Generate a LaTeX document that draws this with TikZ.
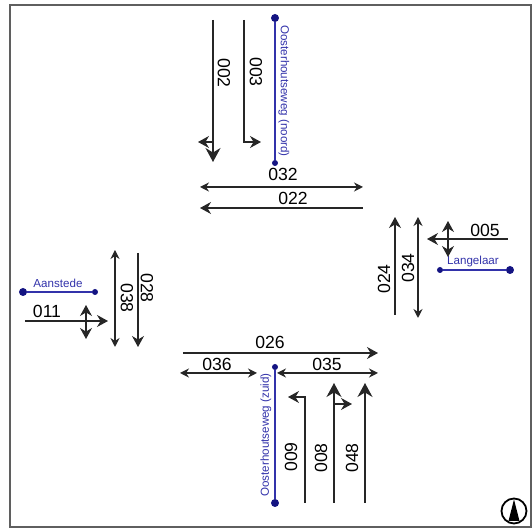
\documentclass[tikz,border=0pt]{standalone}
\usepackage{fontspec}
\setmainfont{Liberation Sans}
\usetikzlibrary{arrows.meta,positioning}
\definecolor{roadblue}{RGB}{50,50,170}
\definecolor{dotblue}{RGB}{20,20,130}
\definecolor{framegray}{RGB}{95,95,95}
\tikzset{
  lane/.style={draw=black!85, line width=0.6pt},
  arr/.style={lane, -{Stealth[length=5.5pt, width=6pt]}},
  darr/.style={lane, {Stealth[length=4.5pt, width=4.5pt]}-{Stealth[length=4.5pt, width=4.5pt]}},
  turnarr/.style={lane, {Stealth[length=5.5pt, width=6pt]}-{Stealth[length=5.5pt, width=6pt]}},
  bigarr/.style={lane, -{Stealth[length=7pt, width=7.5pt]}},
  sg/.style={font=\fontsize{8.8}{10}\selectfont, inner sep=1pt},
  road/.style={draw=roadblue, line width=0.7pt},
  roadlbl/.style={font=\fontsize{5.8}{6}\selectfont, text=roadblue, inner sep=1pt},
  enddot/.style={circle, fill=dotblue, inner sep=0pt, minimum size=4pt},
  innerdot/.style={circle, fill=dotblue, inner sep=0pt, minimum size=3pt},
}

\begin{document}
\begin{tikzpicture}[x=0.5pt, y=-0.5pt]
\useasboundingbox (0,0) rectangle (532,529);
\draw[framegray, line width=1.2pt] (10,5) rectangle (531,527);
% roads
\node[enddot] (nN) at (275,18) {};
\node[innerdot] (nS) at (275,163) {};
\draw[road] (nN) -- (nS);
\node[roadlbl, rotate=-90] (nlbl) at (284,91) {Oosterhoutseweg (noord)};
\node[enddot] (wW) at (23,292) {};
\node[innerdot] (wE) at (95,292) {};
\draw[road] (wW) -- (wE);
\node[roadlbl] (wlbl) at (58,283) {Aanstede};
\node[innerdot] (oW) at (440,270) {};
\node[enddot] (oE) at (510,270) {};
\draw[road] (oW) -- (oE);
\node[roadlbl] (olbl) at (473,262) {Langelaar};
\node[innerdot] (zN) at (275,367) {};
\node[enddot] (zS) at (275,503) {};
\draw[road] (zN) -- (zS);
\node[roadlbl, rotate=90] (zlbl) at (266,435) {Oosterhoutseweg (zuid)};
% noord
\coordinate (s002) at (213,20);
\coordinate (e002) at (213,162);
\coordinate (t002) at (213,142);
\coordinate (l002) at (198,142);
\draw[bigarr] (s002) -- (e002);
\draw[arr] (t002) -- (l002);
\node[sg, rotate=-90] (g002) at (224,73) {002};
\coordinate (s003) at (244,20);
\coordinate (r003) at (261,142);
\draw[arr] (s003) |- (r003);
\node[sg, rotate=-90] (g003) at (256,72) {003};
\coordinate (w032) at (200,187);
\coordinate (o032) at (363,187);
\draw[darr] (w032) -- (o032);
\node[sg] (g032) at (283,174) {032};
\coordinate (w022) at (200,208);
\coordinate (o022) at (363,208);
\draw[arr] (o022) -- (w022);
\node[sg] (g022) at (293,198) {022};
% west
\coordinate (s011) at (25,321);
\coordinate (e011) at (108,321);
\coordinate (n011) at (86,305);
\coordinate (z011) at (86,339);
\draw[arr] (s011) -- (e011);
\draw[turnarr] (n011) -- (z011);
\node[sg] (g011) at (47,311) {011};
\coordinate (n038) at (115,250);
\coordinate (z038) at (115,347);
\draw[darr] (n038) -- (z038);
\node[sg, rotate=-90] (g038) at (127,298) {038};
\coordinate (n028) at (138,253);
\coordinate (z028) at (138,347);
\draw[arr] (n028) -- (z028);
\node[sg, rotate=-90] (g028) at (147,288) {028};
% oost
\coordinate (s005) at (508,239);
\coordinate (e005) at (427,239);
\coordinate (n005) at (448,221);
\coordinate (z005) at (448,257);
\draw[arr] (s005) -- (e005);
\draw[turnarr] (n005) -- (z005);
\node[sg] (g005) at (485,230) {005};
\coordinate (z024) at (395,315);
\coordinate (n024) at (395,217);
\draw[arr] (z024) -- (n024);
\node[sg, rotate=90] (g024) at (384,279) {024};
\coordinate (n034) at (418,217);
\coordinate (z034) at (418,318);
\draw[darr] (n034) -- (z034);
\node[sg, rotate=90] (g034) at (408,268) {034};
% zuid
\coordinate (w026) at (183,353);
\coordinate (o026) at (378,353);
\draw[arr] (w026) -- (o026);
\node[sg] (g026) at (270,342) {026};
\coordinate (w036) at (180,373);
\coordinate (o036) at (257,373);
\draw[darr] (w036) -- (o036);
\node[sg] (g036) at (217,364) {036};
\coordinate (w035) at (277,373);
\coordinate (o035) at (378,373);
\draw[darr] (w035) -- (o035);
\node[sg] (g035) at (327,364) {035};
\coordinate (s009) at (305,503);
\coordinate (l009) at (288,397);
\draw[arr] (s009) |- (l009);
\node[sg, rotate=90] (g009) at (291,457) {009};
\coordinate (s008) at (334,503);
\coordinate (e008) at (334,383);
\coordinate (t008) at (334,404);
\coordinate (r008) at (352,404);
\draw[bigarr] (s008) -- (e008);
\draw[arr] (t008) -- (r008);
\node[sg, rotate=90] (g008) at (321,458) {008};
\coordinate (s048) at (365,503);
\coordinate (e048) at (365,383);
\draw[bigarr] (s048) -- (e048);
\node[sg, rotate=90] (g048) at (352,458) {048};
% noordpijl
\node[circle, draw=black, line width=0.9pt, minimum size=12.5pt, inner sep=0pt] (kompas) at (514,511) {};
\fill (514,499.5) -- (508.5,521) -- (519.5,521) -- cycle;
\end{tikzpicture}
\end{document}
